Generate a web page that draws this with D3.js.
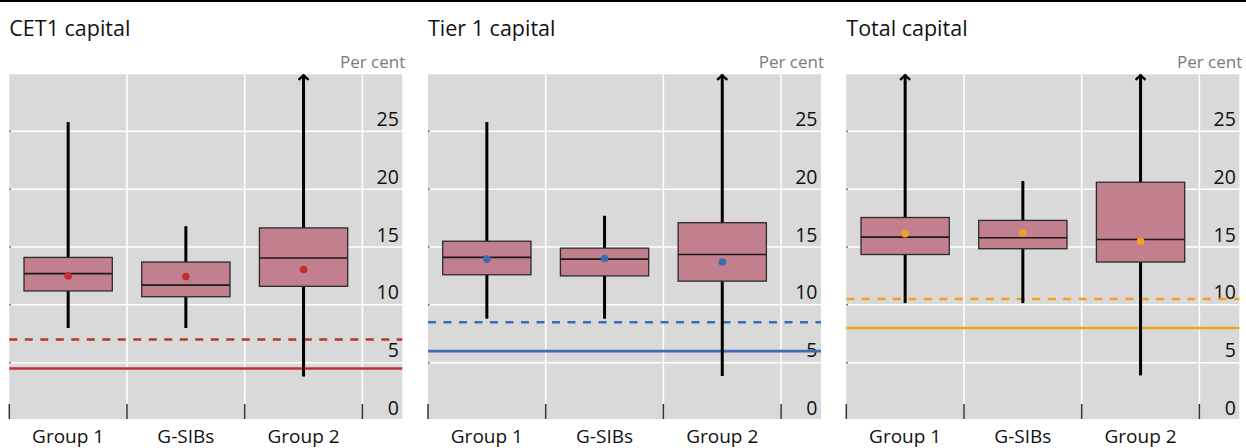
<!DOCTYPE html>
<html>
<head>
<meta charset="utf-8">
<script src="https://cdn.jsdelivr.net/npm/d3@7/dist/d3.min.js"></script>
<style>
  html, body { margin: 0; padding: 0; background: #fff; }
  svg { display: block; font-family: "Open Sans", "Noto Sans", sans-serif; }
</style>
</head>
<body>
<svg id="chart" width="1246" height="448"></svg>
<script>
// Capital ratio distributions by bank group, per cent
const categories = ["Group 1", "G-SIBs", "Group 2"];
const panelTitles = ["CET1 capital", "Tier 1 capital", "Total capital"];
const yTicks = [0, 5, 10, 15, 20, 25];

// Box statistics per panel, one entry per category.
// Upper whisker of null means it runs past the top of the axis (drawn as an arrow).
const whiskerLow = [
  [8.0, 8.0, 3.8],
  [8.8, 8.8, 3.85],
  [10.15, 10.15, 3.9]
];
const quartile1 = [
  [11.2, 10.7, 11.6],
  [12.6, 12.5, 12.05],
  [14.35, 14.85, 13.7]
];
const medians = [
  [12.7, 11.7, 14.05],
  [14.1, 13.95, 14.35],
  [15.85, 15.8, 15.65]
];
const quartile3 = [
  [14.1, 13.7, 16.65],
  [15.5, 14.9, 17.1],
  [17.55, 17.3, 20.6]
];
const whiskerHigh = [
  [25.8, 16.8, null],
  [25.8, 17.7, null],
  [null, 20.7, null]
];
const means = [
  [12.5, 12.45, 13.05],
  [13.95, 14.0, 13.7],
  [16.15, 16.2, 15.5]
];
// Regulatory minimum (solid) and minimum plus conservation buffer (dashed)
const minimumReq = [4.5, 6.0, 8.0];
const bufferReq = [7.0, 8.5, 10.5];
const panelColors = ["#c0302e", "#3d6cb3", "#f0a322"];

const svg = d3.select("#chart");

// Rule across the top of the figure
svg.append("line")
  .attr("x1", 0).attr("x2", 1246).attr("y1", 1).attr("y2", 1)
  .attr("stroke", "#000").attr("stroke-width", 2);

const panelLefts = [9.3, 428, 846.3];
const bandW = 117.7;
const plotW = 393;
const plotTop = 74.3, plotBottom = 419;

const y = d3.scaleLinear().domain([0, 30]).range([420.5, 73.5]);

panelTitles.forEach((title, p) => {
  const left = panelLefts[p];
  const right = left + plotW;
  const g = svg.append("g");
  const x = d3.scaleBand().domain(categories)
    .range([left, left + bandW * categories.length]).paddingInner(0).paddingOuter(0);

  // Panel title and unit
  g.append("text").attr("x", left).attr("y", 35.5)
    .attr("font-size", 21.5).attr("fill", "#111").text(title);
  g.append("text").attr("x", right + 3).attr("y", 67.5)
    .attr("text-anchor", "end").attr("font-size", 17).attr("fill", "#7a7a7a").text("Per cent");

  // Plot background
  g.append("rect").attr("x", left).attr("y", plotTop)
    .attr("width", plotW).attr("height", plotBottom - plotTop).attr("fill", "#d9d9d9");

  // Horizontal gridlines
  g.selectAll(".hgrid").data(yTicks.filter(t => t > 0)).join("line")
    .attr("x1", left).attr("x2", right)
    .attr("y1", d => y(d)).attr("y2", d => y(d))
    .attr("stroke", "#fff").attr("stroke-width", 1.5);
  // Small ticks on the left edge
  g.selectAll(".lt").data(yTicks.filter(t => t > 0)).join("line")
    .attr("x1", left).attr("x2", left + 1.5)
    .attr("y1", d => y(d)).attr("y2", d => y(d))
    .attr("stroke", "#555").attr("stroke-width", 1.5);

  // Vertical gridlines at category boundaries
  const bounds = categories.map(c => x(c) + x.bandwidth());
  g.selectAll(".vgrid").data(bounds).join("line")
    .attr("x1", d => d).attr("x2", d => d)
    .attr("y1", plotTop).attr("y2", plotBottom)
    .attr("stroke", "#fff").attr("stroke-width", 1.5);

  // Category tick marks along the bottom
  g.selectAll(".bt").data([left].concat(bounds)).join("line")
    .attr("x1", d => d).attr("x2", d => d)
    .attr("y1", 404).attr("y2", plotBottom)
    .attr("stroke", "#333").attr("stroke-width", 1.5);

  // Y tick labels inside the plot, right aligned
  g.selectAll(".yl").data(yTicks).join("text")
    .attr("x", right - 3.5).attr("y", d => y(d) - 5.5)
    .attr("text-anchor", "end").attr("font-size", 19.5).attr("fill", "#111")
    .text(d => d);

  // Category labels
  g.selectAll(".xl").data(categories).join("text")
    .attr("x", d => x(d) + x.bandwidth() / 2).attr("y", 442.5)
    .attr("text-anchor", "middle").attr("font-size", 19).attr("fill", "#111")
    .text(d => d);

  // Reference lines
  g.append("line").attr("x1", left).attr("x2", right)
    .attr("y1", y(bufferReq[p])).attr("y2", y(bufferReq[p]))
    .attr("stroke", panelColors[p]).attr("stroke-width", 2.6)
    .attr("stroke-dasharray", "8,7.5");
  g.append("line").attr("x1", left).attr("x2", right)
    .attr("y1", y(minimumReq[p])).attr("y2", y(minimumReq[p]))
    .attr("stroke", panelColors[p]).attr("stroke-width", 2.6);

  const boxes = categories.map((c, i) => ({
    c, lo: whiskerLow[p][i], q1: quartile1[p][i], med: medians[p][i],
    q3: quartile3[p][i], hi: whiskerHigh[p][i], mean: means[p][i]
  }));
  const cx = d => x(d.c) + x.bandwidth() / 2;
  const boxW = x.bandwidth() * 0.75;

  // Whiskers
  g.selectAll(".wl").data(boxes).join("line")
    .attr("x1", cx).attr("x2", cx)
    .attr("y1", d => y(d.lo)).attr("y2", d => y(d.q1))
    .attr("stroke", "#000").attr("stroke-width", 3);
  g.selectAll(".wh").data(boxes).join("line")
    .attr("x1", cx).attr("x2", cx)
    .attr("y1", d => y(d.q3)).attr("y2", d => d.hi === null ? y(30) + 1 : y(d.hi))
    .attr("stroke", "#000").attr("stroke-width", 3);
  // Arrow heads where the whisker leaves the axis range
  g.selectAll(".ah").data(boxes.filter(d => d.hi === null)).join("path")
    .attr("d", d => {
      const xx = cx(d), yy = y(30) + 1.8;
      return `M${xx - 5},${yy + 4.5}L${xx},${yy}L${xx + 5},${yy + 4.5}`;
    })
    .attr("fill", "none").attr("stroke", "#000").attr("stroke-width", 2.4);

  // Boxes
  g.selectAll(".bx").data(boxes).join("rect")
    .attr("x", d => cx(d) - boxW / 2).attr("width", boxW)
    .attr("y", d => y(d.q3)).attr("height", d => y(d.q1) - y(d.q3))
    .attr("fill", "#c27f8e").attr("stroke", "#2b2b2b").attr("stroke-width", 1.3);
  // Medians
  g.selectAll(".md").data(boxes).join("line")
    .attr("x1", d => cx(d) - boxW / 2).attr("x2", d => cx(d) + boxW / 2)
    .attr("y1", d => y(d.med)).attr("y2", d => y(d.med))
    .attr("stroke", "#1a1a1a").attr("stroke-width", 1.6);
  // Means
  g.selectAll(".mn").data(boxes).join("circle")
    .attr("cx", cx).attr("cy", d => y(d.mean)).attr("r", 3.8)
    .attr("fill", panelColors[p]);
});
</script>
</body>
</html>
